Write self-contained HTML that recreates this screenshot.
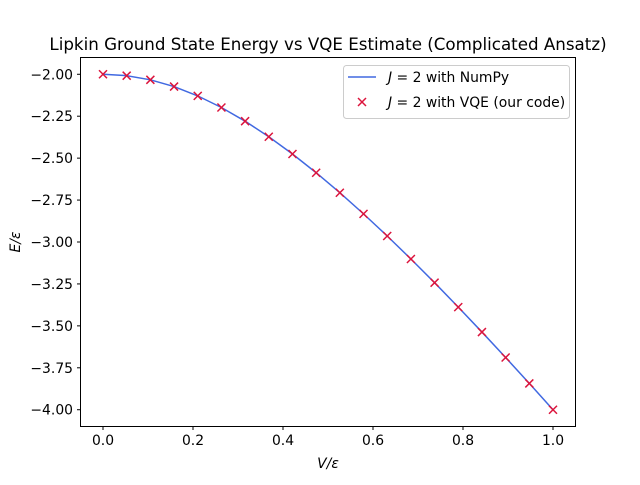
<!DOCTYPE html>
<html><head><meta charset="utf-8"><style>
body{margin:0;background:#fff;}
svg text{font-family:"DejaVu Sans","Liberation Sans",sans-serif;fill:#000;}
</style></head><body>
<svg id="chart" width="640" height="480" xmlns="http://www.w3.org/2000/svg">
<rect width="640" height="480" fill="#fff"/>
<text x="328" y="50" font-size="16.7" text-anchor="middle">Lipkin Ground State Energy vs VQE Estimate (Complicated Ansatz)</text>
<g id="xt"></g>
<g id="yt"></g>
<g id="series"></g>
<rect x="80.5" y="57.5" width="495" height="369" fill="none" stroke="#000" stroke-width="1"/>
<text x="328" y="468" font-size="13.9" text-anchor="middle" font-style="italic">V/ε</text>
<text transform="translate(20,242) rotate(-90)" font-size="13.9" text-anchor="middle" font-style="italic">E/ε</text>
<g>
<rect x="343.5" y="65.5" width="226" height="53" rx="3" fill="#fff" fill-opacity="0.8" stroke="#ccc"/>
<line x1="348" y1="77" x2="376" y2="77" stroke="#4169e1" stroke-width="1.5"/>
<text x="388" y="82" font-size="13.9"><tspan font-style="italic">J</tspan> = 2 with NumPy</text>
<g stroke="#dc143c" stroke-width="1.5"><line x1="358" y1="98" x2="366" y2="106"/><line x1="358" y1="106" x2="366" y2="98"/></g>
<text x="388" y="107" font-size="13.9"><tspan font-style="italic">J</tspan> = 2 with VQE (our code)</text>
</g>
</svg>
<script>
const xVals=[0,0.05263,0.10526,0.15789,0.21053,0.26316,0.31579,0.36842,0.42105,0.47368,0.52632,0.57895,0.63158,0.68421,0.73684,0.78947,0.84211,0.89474,0.94737,1.0];
const numpyVals=[-2.0,-2.0083,-2.0330,-2.0734,-2.1288,-2.1980,-2.2796,-2.3725,-2.4754,-2.5870,-2.7063,-2.8323,-2.9642,-3.1013,-3.2427,-3.3881,-3.5369,-3.6887,-3.8432,-4.0];
const vqeVals=[-2.0,-2.0083,-2.0330,-2.0734,-2.1288,-2.1980,-2.2796,-2.3725,-2.4754,-2.5870,-2.7063,-2.8323,-2.9642,-3.1013,-3.2427,-3.3881,-3.5369,-3.6887,-3.8432,-4.0];
const xTicks=[0,0.2,0.4,0.6,0.8,1.0];
const xTickLabels=["0.0","0.2","0.4","0.6","0.8","1.0"];
const yTicks=[-2.0,-2.25,-2.5,-2.75,-3.0,-3.25,-3.5,-3.75,-4.0];
const yTickLabels=["−2.00","−2.25","−2.50","−2.75","−3.00","−3.25","−3.50","−3.75","−4.00"];
const NS="http://www.w3.org/2000/svg";
const X=v=>80.5+(v+0.05)/1.1*495;
const Y=v=>57.5+(-1.9-v)/2.2*369;
function mk(t,a,p){const e=document.createElementNS(NS,t);for(const k in a)e.setAttribute(k,a[k]);p.appendChild(e);return e;}
const xt=document.getElementById('xt'),yt=document.getElementById('yt'),se=document.getElementById('series');
xTicks.forEach((v,i)=>{
 const l=mk('line',{x1:X(v),x2:X(v),y1:426.5,y2:430,stroke:'#000'},xt);
 
 
 const t=mk('text',{x:X(v),y:445,'font-size':13.9,'text-anchor':'middle'},xt);t.textContent=xTickLabels[i];
 
 
});
yTicks.forEach((v,i)=>{
 const l=mk('line',{x1:77,x2:80.5,y1:Y(v),y2:Y(v),stroke:'#000'},yt);
 
 
 const t=mk('text',{x:73,y:Y(v)+5,'font-size':13.9,'text-anchor':'end'},yt);t.textContent=yTickLabels[i];
 
 
});
const pl=mk('polyline',{points:xVals.map((x,i)=>X(x)+','+Y(numpyVals[i])).join(' '),fill:'none',stroke:'#4169e1','stroke-width':1.5},se);


xVals.forEach((x,i)=>{
 const cx=X(x),cy=Y(vqeVals[i]);
 const g=mk('g',{stroke:'#dc143c','stroke-width':1.5},se);
 
 
 mk('line',{x1:cx-4,y1:cy-4,x2:cx+4,y2:cy+4},g);
 mk('line',{x1:cx-4,y1:cy+4,x2:cx+4,y2:cy-4},g);
});
</script>
</body></html>
